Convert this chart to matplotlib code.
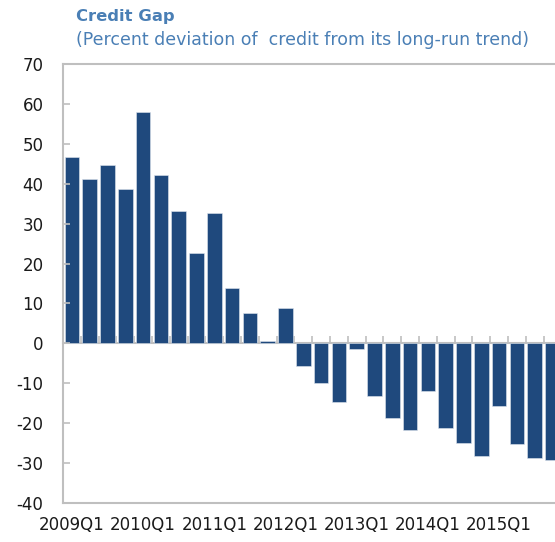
import matplotlib
matplotlib.use("Agg")
import matplotlib.pyplot as plt
import numpy as np

# quarterly credit gap, 2009Q1 - 2015Q4
quarters = [f"{y}Q{q}" for y in range(2009, 2016) for q in range(1, 5)]
credit_gap = [46.6, 41.3, 44.6, 38.6, 57.9, 42.3, 33.2, 22.6,
              32.6, 13.9, 7.6, 0.6, 8.9, -5.7, -9.9, -14.6,
              -1.3, -13.3, -18.6, -21.6, -12.0, -21.3, -25.0, -28.3,
              -15.6, -25.3, -28.6, -29.2]
y_ticks = list(range(-40, 71, 10))

bar_col = "#1f497d"
title_col = "#4a7fb5"
grey = "#bfbfbf"

plt.rcParams["font.family"] = ["DejaVu Sans"]
plt.rcParams["axes.unicode_minus"] = False

fig = plt.figure(figsize=(5.55, 5.42), dpi=100)
ax = fig.add_axes([63 / 555, 39 / 542, 498.4 / 555, 439 / 542])

x = np.arange(len(quarters))
ax.bar(x, credit_gap, width=0.83, color=bar_col, edgecolor="#dfe6ef", linewidth=0.4)

ax.set_xlim(-0.5, len(quarters) - 0.5)
ax.set_ylim(-40, 70)
ax.set_yticks(y_ticks)
ax.set_xticks(x[::4])
ax.set_xticklabels(quarters[::4])
ax.tick_params(axis="y", direction="in", length=5, width=1.2, color=grey,
               labelsize=12, pad=14, labelcolor="#1a1a1a")
ax.tick_params(axis="x", length=0, labelsize=12, pad=9, labelcolor="#1a1a1a")

for s in ["left", "bottom", "top"]:
    ax.spines[s].set_color(grey)
    ax.spines[s].set_linewidth(1.5)
ax.spines["right"].set_visible(False)

# zero line with category ticks between bars
zero_ax = ax.secondary_xaxis(40 / 110)
zero_ax.set_xticks(np.arange(len(quarters)) + 0.5)
zero_ax.tick_params(direction="in", length=5, width=1.2, color=grey, labelbottom=False)
zero_ax.spines["bottom"].set_color(grey)
zero_ax.spines["bottom"].set_linewidth(1.5)

fig.text(76 / 555, 1 - 21 / 542, "Credit Gap", fontsize=11.8, fontweight="bold",
         color=title_col, ha="left", va="baseline")
fig.text(76 / 555, 1 - 45 / 542, "(Percent deviation of  credit from its long-run trend)",
         fontsize=12.5, color=title_col, ha="left", va="baseline")

fig.savefig("out.png", dpi=100)
